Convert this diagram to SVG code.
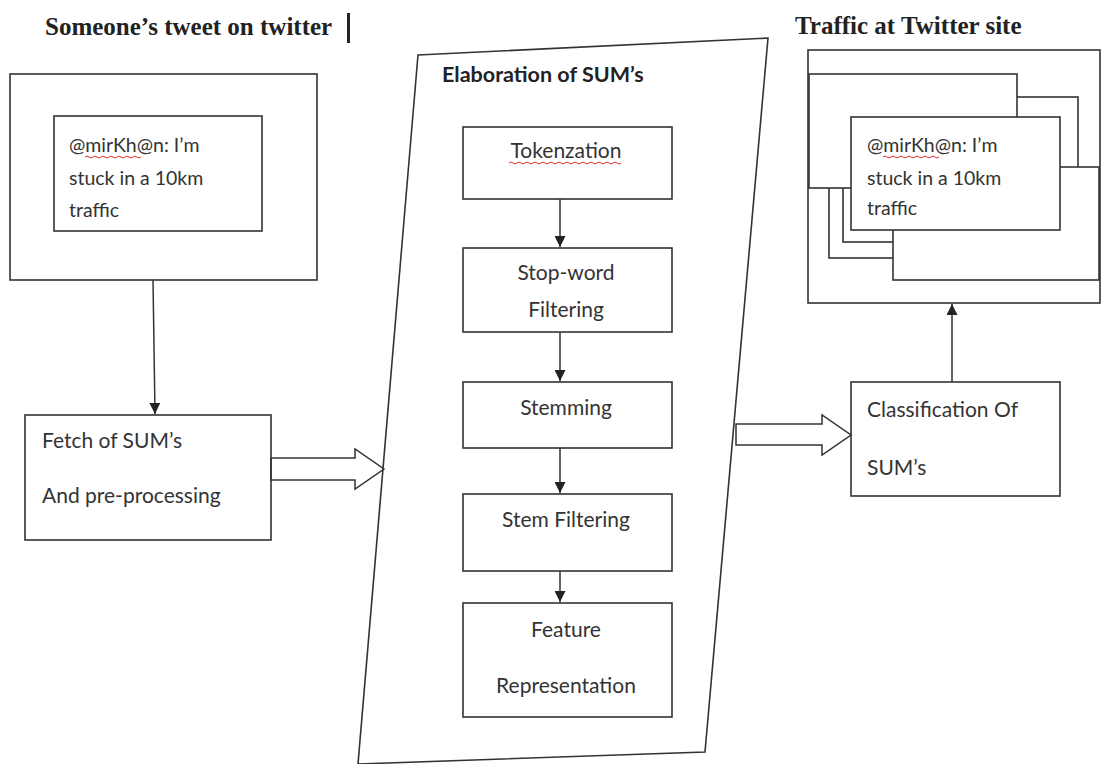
<svg xmlns="http://www.w3.org/2000/svg" width="1102" height="764" viewBox="0 0 1102 764">
<style>
.box{fill:#fff;stroke:#333;stroke-width:1.6}
.ln{fill:none;stroke:#333;stroke-width:1.5}
.t{font-family:Lato,"Liberation Sans",sans-serif;font-size:21px;fill:#333}
.tw{font-family:Lato,"Liberation Sans",sans-serif;font-size:19.5px;fill:#333}
.c{text-anchor:middle}
.h{font-family:"Liberation Serif",serif;font-weight:bold;font-size:25px;fill:#222}
.hb{font-family:Lato,"Liberation Sans",sans-serif;font-weight:bold;font-size:21.5px;fill:#222}
.sq{fill:none;stroke:#e03030;stroke-width:1}
</style>
<defs>
<marker id="ah" viewBox="0 0 10 10" refX="10" refY="5" markerWidth="11" markerHeight="11" markerUnits="userSpaceOnUse" orient="auto">
<path d="M0,0 L10,5 L0,10 z" fill="#222"/>
</marker>
</defs>
<rect width="1102" height="764" fill="#fff"/>

<g id="title-left">
<text class="h" x="45" y="35">Someone’s tweet on twitter</text>
<rect x="347" y="13" width="3" height="30" fill="#222"/>
</g>
<g id="title-right">
<text class="h" x="795" y="34">Traffic at Twitter site</text>
</g>

<g id="tweet">
<rect class="box" x="10" y="74" width="307" height="206"/>
<rect class="box" x="54" y="116" width="208" height="115"/>
<text class="tw" x="69" y="152">@mirKh@n: I’m</text>
<path class="sq" d="M85,157 q2,-2 4,0 t4,0 t4,0 t4,0 t4,0 t4,0 t4,0 t4,0 t4,0 t4,0 t4,0 t4,0 t4,0 t4,0"/>
<text class="tw" x="69" y="185">stuck in a 10km</text>
<text class="tw" x="69" y="217">traffic</text>
</g>

<g id="fetch">
<rect class="box" x="25" y="415" width="246" height="125"/>
<text class="t" x="42" y="448">Fetch of SUM’s</text>
<text class="t" x="42" y="503">And pre-processing</text>
</g>

<g id="elaboration">
<polygon class="box" points="418,55 768,38 705,752 358,764"/>
<text class="hb" x="442" y="82">Elaboration of SUM’s</text>
</g>

<g id="tokenization">
<rect class="box" x="463" y="127" width="209" height="72"/>
<text class="t c" x="566" y="158">Tokenzation</text>
<path class="sq" d="M509,163 q2,-2 4,0 t4,0 t4,0 t4,0 t4,0 t4,0 t4,0 t4,0 t4,0 t4,0 t4,0 t4,0 t4,0 t4,0 t4,0 t4,0 t4,0 t4,0 t4,0 t4,0 t4,0 t4,0 t4,0 t4,0 t4,0 t4,0 t4,0 t4,0"/>
</g>
<g id="stopword">
<rect class="box" x="463" y="248" width="209" height="84"/>
<text class="t c" x="566" y="280">Stop-word</text>
<text class="t c" x="566" y="317">Filtering</text>
</g>
<g id="stemming">
<rect class="box" x="463" y="382" width="209" height="66"/>
<text class="t c" x="566" y="415">Stemming</text>
</g>
<g id="stemfiltering">
<rect class="box" x="463" y="494" width="209" height="77"/>
<text class="t c" x="566" y="527">Stem Filtering</text>
</g>
<g id="feature">
<rect class="box" x="463" y="603" width="209" height="114"/>
<text class="t c" x="566" y="637">Feature</text>
<text class="t c" x="566" y="693">Representation</text>
</g>

<g id="classification">
<rect class="box" x="851" y="382" width="209" height="114"/>
<text class="t" x="867" y="417">Classification Of</text>
<text class="t" x="867" y="475">SUM’s</text>
</g>

<g id="traffic">
<rect class="box" x="808" y="50" width="292" height="253"/>
<rect class="box" x="829" y="97" width="249" height="161"/>
<rect class="box" x="843" y="120" width="214" height="122"/>
<rect class="box" x="893" y="167" width="206" height="113"/>
<rect class="box" x="809" y="74" width="208" height="114"/>
<rect class="box" x="851" y="117" width="209" height="113"/>
<text class="tw" x="867" y="152">@mirKh@n: I’m</text>
<path class="sq" d="M883,157 q2,-2 4,0 t4,0 t4,0 t4,0 t4,0 t4,0 t4,0 t4,0 t4,0 t4,0 t4,0 t4,0 t4,0 t4,0"/>
<text class="tw" x="867" y="185">stuck in a 10km</text>
<text class="tw" x="867" y="215">traffic</text>
</g>

<g id="connectors">
<line class="ln" x1="153" y1="280" x2="155" y2="414" marker-end="url(#ah)"/>
<polygon class="ln" fill="#fff" points="271,458 355,458 355,449 384,469 355,489 355,480 271,480"/>
<line class="ln" x1="560" y1="199" x2="560" y2="247" marker-end="url(#ah)"/>
<line class="ln" x1="560" y1="332" x2="560" y2="381" marker-end="url(#ah)"/>
<line class="ln" x1="560" y1="448" x2="560" y2="493" marker-end="url(#ah)"/>
<line class="ln" x1="560" y1="571" x2="560" y2="602" marker-end="url(#ah)"/>
<polygon class="ln" fill="#fff" points="736,424 822,424 822,415 851,435 822,455 822,445 736,445"/>
<line class="ln" x1="952" y1="382" x2="952" y2="304" marker-end="url(#ah)"/>
</g>
</svg>
